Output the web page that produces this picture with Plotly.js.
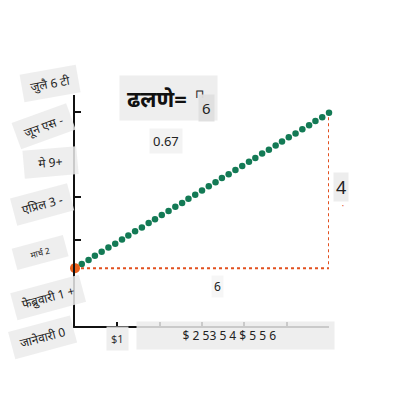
<!DOCTYPE html>
<html>
<head>
<meta charset="utf-8">
<script src="https://cdn.plot.ly/plotly-3.0.1.min.js"></script>
<style>
  body { margin: 0; background: #fff; }
  #plot { width: 400px; height: 400px; }
</style>
</head>
<body>
<div id="plot"></div>
<script>
// slope points (rise 4 over run 6)
var dotX = [0.16, 0.32, 0.47, 0.63, 0.79, 0.95, 1.11, 1.26, 1.42, 1.58,
            1.74, 1.89, 2.05, 2.21, 2.37, 2.53, 2.68, 2.84, 3.00, 3.16,
            3.32, 3.47, 3.63, 3.79, 3.95, 4.11, 4.26, 4.42, 4.58, 4.74,
            4.89, 5.05, 5.21, 5.37, 5.53, 5.68, 5.84, 6.00];
var dotY = [1.11, 1.21, 1.32, 1.42, 1.53, 1.63, 1.74, 1.84, 1.95, 2.05,
            2.16, 2.26, 2.37, 2.47, 2.58, 2.68, 2.79, 2.89, 3.00, 3.11,
            3.21, 3.32, 3.42, 3.53, 3.63, 3.74, 3.84, 3.95, 4.05, 4.16,
            4.26, 4.37, 4.47, 4.58, 4.68, 4.79, 4.89, 5.00];
var startPt = [0, 1];
var triX = [0, 6, 6];
var triY = [1, 1, 5];
var runLabel = "6";
var riseLabel = "4";
var slopeText = "0.67";
var monthLabels = ["जुलै 6 टी", "जून एस -", "मे 9+", "एप्रिल 3 -", "मार्च 2", "फेब्रुवारी 1 +", "जानेवारी 0"];
var xTickVals = [1, 2, 3, 4, 5, 6];
var xTickFirst = "$1";
var xTickRest = "$ 2 53 5 4 $ 5 5 6";

var font = "Noto Sans, Noto Sans Devanagari, sans-serif";
var boxBg = "rgba(235,235,235,0.85)";

var traces = [
    {
        type: "scatter",
        x: triX,
        y: triY,
        mode: "lines",
        line: {color: "#e2501f", width: 2, dash: "dot"},
        hoverinfo: "skip"
    },
    {
        type: "scatter",
        x: dotX,
        y: dotY,
        mode: "markers",
        marker: {color: "#137a55", size: 6.5},
        cliponaxis: false
    },
    {
        type: "scatter",
        x: [startPt[0]],
        y: [startPt[1]],
        mode: "markers",
        marker: {color: "#e8601c", size: 10},
        cliponaxis: false
    }
];

// y label spots: px x, px y, angle, font size, side padding (nbsp count)
var labelPos = [[50, 83, -10, 12, 1], [43, 126, -20, 12, 1], [50, 162, -5, 12, 3],
                [42, 204, -15, 12, 1], [40, 252, -15, 8.5, 5], [48, 297, -15, 12, 1], [42, 337, -15, 12, 1]];

function px2paper(px, py){
    // plot area: left 75, right 329, top 95, bottom 326
    return [(px - 75) / 254, (326 - py) / 231];
}

function pad(n){ return "&nbsp;".repeat(n); }

function note(px, py, text, opts){
    var p = px2paper(px, py);
    var a = {xref: "paper", yref: "paper", x: p[0], y: p[1], text: text,
             xanchor: "center", yanchor: "middle", showarrow: false};
    for (var k in opts) a[k] = opts[k];
    return a;
}

var annotations = [];
for (var i = 0; i < monthLabels.length; i++){
    var lp = labelPos[i];
    annotations.push(note(lp[0], lp[1], pad(lp[4]) + monthLabels[i] + pad(lp[4]), {
        textangle: lp[2],
        bgcolor: boxBg,
        borderpad: 5,
        font: {family: font, size: lp[3], color: "#222"}
    }));
}

annotations.push(note(117, 338, xTickFirst, {bgcolor: boxBg, borderpad: 4,
    font: {family: font, size: 11, color: "#333"}}));
annotations.push(note(235, 335, pad(13) + xTickRest + pad(17),
    {bgcolor: boxBg, borderpad: 5, font: {family: font, size: 12, color: "#222"}}));

annotations.push(note(168, 98, "<b>ढलणे=</b>" + pad(4), {bgcolor: boxBg, borderpad: 7,
    font: {family: font, size: 22, color: "#111"}}));
annotations.push(note(199, 93, "⊓", {font: {family: font, size: 12, color: "#222"}}));
annotations.push(note(206, 108, runLabel, {bgcolor: "rgba(222,222,222,0.95)", borderpad: 3,
    font: {family: font, size: 15, color: "#222"}}));
annotations.push(note(166, 141, slopeText, {bgcolor: "rgba(242,242,242,0.9)", borderpad: 3,
    font: {family: font, size: 13, color: "#222"}}));

// rise / run labels next to the triangle
annotations.push(note(341, 187, riseLabel, {bgcolor: "rgba(235,235,235,0.9)", borderpad: 2,
    font: {family: font, size: 18, color: "#222"}}));
annotations.push(note(343, 206, "•", {font: {family: font, size: 5, color: "#e2501f"}}));
annotations.push(note(217, 286, runLabel, {bgcolor: "rgba(245,245,245,0.9)", borderpad: 2,
    font: {family: font, size: 12, color: "#222"}}));

var layout = {
    width: 400,
    height: 400,
    paper_bgcolor: "#fff",
    plot_bgcolor: "#fff",
    showlegend: false,
    margin: {l: 75, r: 71, t: 95, b: 74},
    xaxis: {
        range: [0, 6.0],
        showgrid: false,
        zeroline: false,
        showline: true,
        linecolor: "#111",
        linewidth: 2,
        tickvals: xTickVals,
        ticktext: ["", "", "", "", "", ""],
        ticks: "inside",
        ticklen: 4,
        tickwidth: 2,
        tickcolor: "#111"
    },
    yaxis: {
        range: [-0.49, 5.46],
        showgrid: false,
        zeroline: false,
        showline: true,
        linecolor: "#111",
        linewidth: 2,
        tickvals: [1.72, 2.83, 5.03],
        ticktext: ["", "", ""],
        ticks: "inside",
        ticklen: 6,
        tickwidth: 2,
        tickcolor: "#111"
    },
    annotations: annotations
};

Plotly.newPlot("plot", traces, layout, {displayModeBar: false, staticPlot: true});
</script>
</body>
</html>
